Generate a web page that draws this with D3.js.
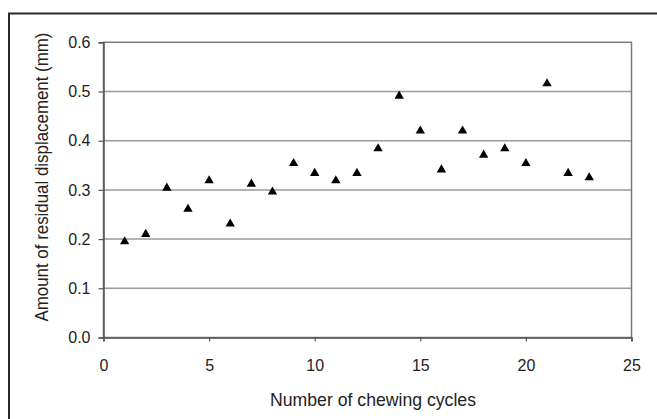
<!DOCTYPE html>
<html>
<head>
<meta charset="utf-8">
<script src="https://cdn.jsdelivr.net/npm/d3@7"></script>
<style>
  html, body { margin: 0; padding: 0; background: #fff; }
  svg { display: block; }
  text { font-family: "Liberation Sans", Arial, sans-serif; fill: #222; }
</style>
</head>
<body>
<svg id="chart" width="657" height="419"></svg>
<script>
const cycles = [1,2,3,4,5,6,7,8,9,10,11,12,13,14,15,16,17,18,19,20,21,22,23];
const displacement = [0.195,0.210,0.304,0.261,0.319,0.231,0.312,0.296,0.354,0.334,0.319,0.334,
                      0.384,0.491,0.420,0.341,0.420,0.371,0.384,0.354,0.516,0.334,0.325];
const xTicks = [0,5,10,15,20,25];
const yTicks = [0,0.1,0.2,0.3,0.4,0.5,0.6];
const xTitle = "Number of chewing cycles";
const yTitle = "Amount of residual displacement (mm)";

const svg = d3.select("#chart");
const L = 103.5, R = 631.5, T = 42.3, B = 337.5;
const x = d3.scaleLinear().domain([0,25]).range([L,R]);
const y = d3.scaleLinear().domain([0,0.6]).range([B,T]);

// outer frame (open at right & bottom)
svg.append("path")
  .attr("d", `M9,419 L9,13.5 L657,13.5`)
  .attr("fill","none").attr("stroke","#2a2a2a").attr("stroke-width",2);

// gridlines
svg.append("g").selectAll("line").data(yTicks.filter(v => v > 0 && v < 0.6)).join("line")
  .attr("x1", L).attr("x2", R)
  .attr("y1", d => y(d)).attr("y2", d => y(d))
  .attr("stroke","#9a9a9a").attr("stroke-width",1.5);

// plot border
svg.append("rect").attr("x",L).attr("y",T).attr("width",R-L).attr("height",B-T)
  .attr("fill","none").attr("stroke","#7a7a7a").attr("stroke-width",1.5);

// y axis
const yAxis = svg.append("g").attr("transform",`translate(${L},0)`)
  .call(d3.axisLeft(y).tickValues(yTicks).tickFormat(d3.format(".1f")).tickSize(5).tickPadding(8));
yAxis.select(".domain").attr("stroke","#555").attr("stroke-width",1.5);
yAxis.selectAll(".tick line").attr("stroke","#555").attr("stroke-width",1.2);
yAxis.selectAll("text").attr("font-size",16).attr("fill","#222")
  .style("font-family","'Liberation Sans', Arial, sans-serif");

// x axis
const xAxis = svg.append("g").attr("transform",`translate(0,${B})`)
  .call(d3.axisBottom(x).tickValues(xTicks).tickFormat(d3.format("d")).tickSize(4).tickPadding(18));
xAxis.select(".domain").attr("stroke","#555").attr("stroke-width",1.5);
xAxis.selectAll(".tick line").attr("stroke","#555").attr("stroke-width",1.2);
xAxis.selectAll("text").attr("font-size",16).attr("fill","#222")
  .style("font-family","'Liberation Sans', Arial, sans-serif");

// points
const tri = d3.symbol().type(d3.symbolTriangle).size(38);
svg.append("g").selectAll("path").data(cycles.map((c,i) => [c, displacement[i]])).join("path")
  .attr("d", tri)
  .attr("transform", d => `translate(${x(d[0])},${y(d[1])})`)
  .attr("fill","#000");

// titles
svg.append("text").attr("x", 373).attr("y", 406)
  .attr("text-anchor","middle").attr("font-size",18.5)
  .attr("textLength",206).attr("lengthAdjust","spacingAndGlyphs").text(xTitle);
svg.append("text").attr("transform", `translate(48,177) rotate(-90)`)
  .attr("text-anchor","middle").attr("font-size",18.5)
  .attr("textLength",289).attr("lengthAdjust","spacingAndGlyphs").text(yTitle);
</script>
</body>
</html>
